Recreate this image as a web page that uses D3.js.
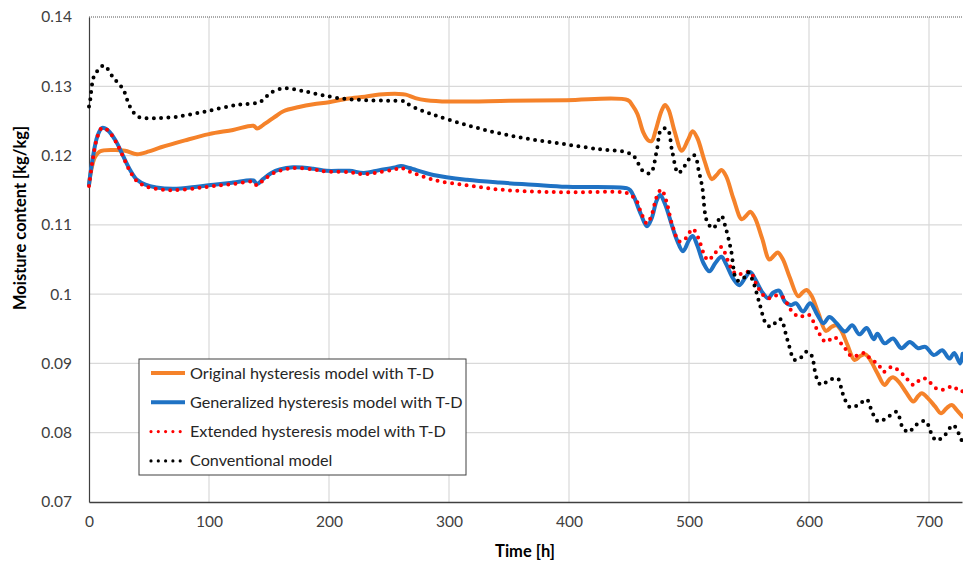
<!DOCTYPE html>
<html>
<head>
<meta charset="utf-8">
<script src="https://cdn.jsdelivr.net/npm/d3@7"></script>
<style>
  html, body { margin: 0; padding: 0; background: #fff; }
  svg { display: block; font-family: Lato, "Open Sans", sans-serif; }
</style>
</head>
<body>
<div id="chart"></div>
<script>
// [time h, moisture kg/kg]
const original = [
  [0,0.1158],[2,0.1180],[5,0.1198],[9,0.1206],[20,0.1208],[30,0.1207],[40,0.1202],[50,0.1206],
  [60,0.1212],[80,0.1222],[100,0.1231],[120,0.1237],[137,0.1243],[140,0.1239],[145,0.1244],
  [155,0.1256],[162,0.1264],[175,0.1270],[187,0.1274],[200,0.1277],[215,0.1282],[230,0.1285],
  [242,0.1288],[258,0.1289],[264,0.1288],[272,0.1283],[281,0.1280],[300,0.1278],[350,0.1279],
  [398,0.1280],[449,0.1280],[453,0.1272],[457,0.1260],[462,0.1233],[466,0.1222],[469,0.1221],
  [472,0.1235],[477,0.1264],[480,0.1273],[483,0.1266],[488,0.1235],[494,0.1207],[499,0.1222],
  [503,0.1235],[507,0.1225],[513,0.1192],[519,0.1166],[523,0.1172],[527,0.1179],[531,0.1170],
  [537,0.1138],[544,0.1108],[548,0.1114],[551,0.1119],[555,0.1110],[561,0.1080],[567,0.1050],
  [571,0.1056],[574,0.1060],[578,0.1051],[584,0.1024],[591,0.0997],[595,0.1003],[598,0.1006],
  [602,0.0998],[608,0.0972],[614,0.0947],[619,0.0953],[623,0.0955],[627,0.0947],[632,0.0927],
  [638,0.0905],[643,0.0911],[647,0.0913],[651,0.0905],[657,0.0886],[663,0.0869],[667,0.0877],
  [670,0.0880],[675,0.0873],[681,0.0858],[687,0.0845],[691,0.0853],[694,0.0857],[699,0.0850],
  [705,0.0838],[710,0.0828],[715,0.0836],[719,0.0840],[723,0.0833],[728,0.0823]
];
const generalized = [
  [0,0.1158],[3,0.1195],[7,0.1228],[11,0.1240],[16,0.1236],[22,0.1222],[28,0.1201],[34,0.1180],
  [40,0.1165],[47,0.1158],[56,0.1154],[70,0.1152],[90,0.1155],[104,0.1158],[120,0.1161],
  [137,0.1164],[140,0.1159],[145,0.1166],[152,0.1175],[159,0.1180],[170,0.1183],[187,0.1181],
  [198,0.1178],[217,0.1178],[229,0.1175],[242,0.1179],[255,0.1183],[260,0.1185],[267,0.1182],
  [287,0.1172],[315,0.1165],[342,0.1161],[370,0.1158],[398,0.1155],[448,0.1153],[451,0.1150],
  [454,0.1141],[460,0.1115],[465,0.1098],[469,0.1110],[473,0.1135],[476,0.1143],[480,0.1130],
  [486,0.1098],[490,0.1078],[495,0.1062],[500,0.1078],[503,0.1084],[507,0.1070],[512,0.1045],
  [517,0.1033],[522,0.1045],[527,0.1054],[531,0.1043],[537,0.1022],[542,0.1013],[547,0.1024],
  [551,0.1032],[555,0.1022],[561,0.1003],[566,0.0994],[570,0.1002],[575,0.1005],[580,0.0989],
  [585,0.0984],[589,0.0987],[595,0.0975],[601,0.0987],[607,0.0970],[612,0.0958],[617,0.0967],
  [623,0.0958],[630,0.0946],[636,0.0955],[642,0.0942],[648,0.0951],[654,0.0935],[657,0.0943],
  [663,0.0929],[670,0.0936],[677,0.0922],[684,0.0931],[691,0.0922],[697,0.0924],[704,0.0912],
  [711,0.0919],[717,0.0907],[721,0.0915],[726,0.0900],[728,0.0914]
];
const extended = [
  [0,0.1156],[3,0.1193],[7,0.1227],[11,0.1240],[16,0.1236],[22,0.1221],[28,0.1200],[34,0.1178],
  [40,0.1163],[47,0.1156],[56,0.1152],[70,0.1150],[90,0.1153],[104,0.1156],[120,0.1159],
  [137,0.1162],[140,0.1157],[145,0.1164],[152,0.1173],[159,0.1178],[170,0.1182],[187,0.1180],
  [198,0.1177],[217,0.1176],[229,0.1173],[242,0.1176],[255,0.1180],[260,0.1182],[267,0.1177],
  [287,0.1165],[315,0.1157],[342,0.1151],[370,0.1148],[398,0.1147],[448,0.1146],[452,0.1142],
  [456,0.1136],[460,0.1118],[465,0.1102],[469,0.1115],[473,0.1140],[477,0.1151],[481,0.1135],
  [486,0.1100],[492,0.1076],[497,0.1080],[503,0.1094],[508,0.1080],[512,0.1060],[516,0.1049],
  [522,0.1060],[527,0.1068],[532,0.1050],[536,0.1035],[540,0.1028],[546,0.1031],[551,0.1032],
  [556,0.1015],[561,0.1000],[566,0.0994],[572,0.0998],[578,0.0996],[585,0.0977],[592,0.0967],
  [596,0.0969],[600,0.0970],[607,0.0948],[614,0.0931],[621,0.0938],[629,0.0924],[636,0.0910],
  [646,0.0915],[651,0.0907],[658,0.0898],[662,0.0888],[669,0.0895],[679,0.0883],[687,0.0869],
  [693,0.0877],[697,0.0878],[706,0.0864],[711,0.0862],[716,0.0865],[720,0.0867],[726,0.0859],
  [728,0.0860]
];
const conventional = [
  [0,0.1271],[1,0.1280],[4,0.1314],[8,0.1324],[12.5,0.1330],[20,0.1313],[28.6,0.1295],[34,0.1271],
  [41,0.1256],[54,0.1254],[73,0.1256],[98,0.1264],[123,0.1273],[140,0.1276],[145,0.1280],
  [151,0.1290],[162,0.1297],[176,0.1294],[192,0.1288],[212,0.1282],[231,0.1280],[250,0.1279],
  [263,0.1278],[268,0.1272],[287,0.1259],[315,0.1244],[342,0.1232],[370,0.1223],[398,0.1216],
  [426,0.1209],[447,0.1205],[454,0.1199],[462,0.1177],[468,0.1175],[473,0.1206],[477,0.1238],
  [482,0.1238],[486,0.1206],[491,0.1175],[496,0.1184],[502,0.1199],[505,0.1200],[508,0.1179],
  [511,0.1155],[515,0.1105],[520,0.1095],[524,0.1105],[527,0.1113],[531,0.1093],[535,0.1064],
  [540,0.1020],[545,0.1022],[549,0.1032],[553,0.1020],[559,0.0985],[564,0.0958],[568,0.0953],
  [576,0.0964],[582,0.0934],[588,0.0905],[593,0.0908],[598,0.0917],[602,0.0912],[606,0.0881],
  [610,0.0869],[617,0.0876],[624,0.0878],[628,0.0857],[634,0.0837],[641,0.0840],[648,0.0848],
  [653,0.0828],[658,0.0816],[666,0.0823],[673,0.0830],[678,0.0808],[683,0.0801],[689,0.0811],
  [697,0.0817],[702,0.0799],[706,0.0789],[713,0.0796],[720,0.0811],[726,0.0794],[728,0.0785]
];

const seriesNames = [
  "Original hysteresis model with T-D",
  "Generalized hysteresis model with T-D",
  "Extended hysteresis model with T-D",
  "Conventional model"
];
const xTicks = [0, 100, 200, 300, 400, 500, 600, 700];
const yTicks = [0.07, 0.08, 0.09, 0.1, 0.11, 0.12, 0.13, 0.14];

const w = 963, h = 565;
const m = {left: 89, right: 1, top: 17, bottom: 63};

const x = d3.scaleLinear().domain([0, 727.5]).range([m.left, w - m.right]);
const y = d3.scaleLinear().domain([0.07, 0.14]).range([h - m.bottom, m.top]);

const svg = d3.select("#chart").append("svg")
  .attr("width", w).attr("height", h);

// gridlines
svg.append("g")
  .selectAll("line").data(yTicks.filter(d => d > 0.07 && d < 0.14)).enter()
  .append("line")
  .attr("x1", m.left).attr("x2", w - m.right)
  .attr("y1", d => y(d)).attr("y2", d => y(d))
  .attr("stroke", "#d9d9d9").attr("stroke-width", 1.2);
svg.append("g")
  .selectAll("line").data(xTicks.filter(d => d > 0)).enter()
  .append("line")
  .attr("x1", d => x(d)).attr("x2", d => x(d))
  .attr("y1", m.top).attr("y2", h - m.bottom)
  .attr("stroke", "#d9d9d9").attr("stroke-width", 1.2);

// top dotted line at 0.14
svg.append("line")
  .attr("x1", m.left).attr("x2", w - m.right)
  .attr("y1", y(0.14)).attr("y2", y(0.14))
  .attr("stroke", "#555").attr("stroke-width", 1)
  .attr("stroke-dasharray", "1,1");

// axes
const xAxis = svg.append("g")
  .attr("transform", `translate(0,${h - m.bottom})`)
  .call(d3.axisBottom(x).tickValues(xTicks).tickSize(0).tickPadding(14).tickFormat(d3.format("d")));
const yAxis = svg.append("g")
  .attr("transform", `translate(${m.left},0)`)
  .call(d3.axisLeft(y).tickValues(yTicks).tickSize(0).tickPadding(17).tickFormat(d => String(+d.toFixed(2))));
xAxis.select(".domain").attr("stroke", "#404040").attr("stroke-width", 1.6);
yAxis.select(".domain").attr("stroke", "#404040").attr("stroke-width", 1.2);
[xAxis, yAxis].forEach(a => a.selectAll("text")
  .attr("font-family", "Lato, sans-serif").attr("font-size", "15.5px").attr("fill", "#404040"));

// lines
const line = d3.line()
  .x(d => x(d[0])).y(d => y(d[1]))
  .curve(d3.curveCatmullRom.alpha(0.5));

const styles = [
  {data: original, color: "#f5822a", width: 4, dash: null},
  {data: generalized, color: "#1f72c4", width: 4, dash: null},
  {data: extended, color: "#ff0000", width: 4, dash: "0,7.3"},
  {data: conventional, color: "#000000", width: 4, dash: "0,7.3"}
];

const plot = svg.append("g");
plot.selectAll("path")
  .data(styles)
  .enter()
  .append("path")
  .attr("d", d => line(d.data))
  .attr("fill", "none")
  .attr("stroke", d => d.color)
  .attr("stroke-width", d => d.width)
  .attr("stroke-linecap", "round")
  .attr("stroke-linejoin", "round")
  .attr("stroke-dasharray", d => d.dash);

// axis titles
svg.append("text")
  .attr("x", 525).attr("y", 557)
  .attr("text-anchor", "middle")
  .attr("font-family", "Lato, sans-serif").attr("font-weight", "bold").attr("font-size", "16.5px")
  .attr("fill", "#000")
  .text("Time [h]");
svg.append("text")
  .attr("transform", "translate(26,218) rotate(-90)")
  .attr("text-anchor", "middle")
  .attr("font-family", "Lato, sans-serif").attr("font-weight", "bold").attr("font-size", "16.5px")
  .attr("fill", "#000")
  .text("Moisture content [kg/kg]");

// legend
const legend = svg.append("g").attr("transform", "translate(139,359)");
legend.append("rect")
  .attr("width", 327).attr("height", 116)
  .attr("fill", "#fff").attr("stroke", "#404040").attr("stroke-width", 1);
const items = legend.selectAll("g.item")
  .data(styles)
  .enter()
  .append("g")
  .attr("class", "item")
  .attr("transform", (d, i) => `translate(0,${14 + i * 29.3})`);
items.append("line")
  .attr("x1", 12).attr("x2", 46)
  .attr("y1", 0).attr("y2", 0)
  .attr("stroke", d => d.color)
  .attr("stroke-width", d => d.dash ? 3.2 : 4)
  .attr("stroke-linecap", d => d.dash ? "round" : "butt")
  .attr("stroke-dasharray", d => d.dash);
items.append("text")
  .attr("x", 51).attr("y", 5.5)
  .attr("font-family", "Lato, sans-serif").attr("font-size", "16.2px")
  .attr("fill", "#262626")
  .text((d, i) => seriesNames[i]);
</script>
</body>
</html>
